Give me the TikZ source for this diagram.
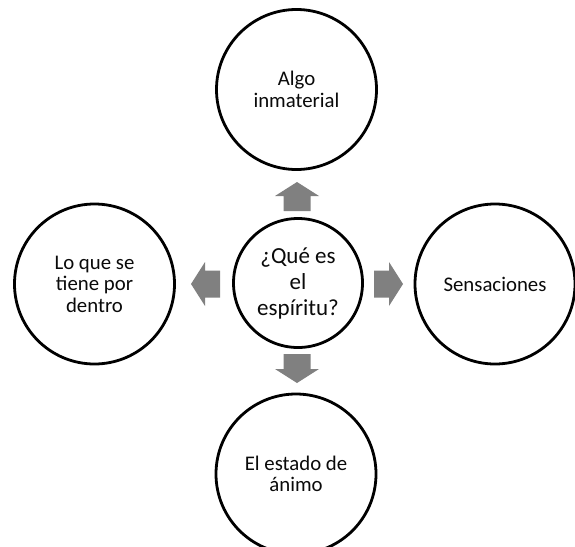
\documentclass[tikz,border=0pt]{standalone}
\usepackage{fontspec}
\setmainfont{Carlito}
\definecolor{arrowgray}{HTML}{808080}
\definecolor{textdark}{HTML}{0A0A0A}
\tikzset{
  outercircle/.style={circle, draw=black, line width=2.8pt, fill=white, minimum size=160pt, inner sep=0pt, align=center, text=textdark, font=\fontsize{20.8pt}{21.5pt}\selectfont},
  centercircle/.style={circle, draw=black, line width=2.8pt, fill=white, minimum size=129pt, inner sep=0pt, align=center, text=textdark, font=\fontsize{23pt}{26pt}\selectfont},
  blockarrow/.pic={\fill[arrowgray] (0pt,-13.5pt) -- (15pt,-13.5pt) -- (15pt,-22pt) -- (29pt,0pt) -- (15pt,22pt) -- (15pt,13.5pt) -- (0pt,13.5pt) -- cycle;}
}
\begin{document}
\begin{tikzpicture}[x=1pt,y=1pt]
\useasboundingbox (0,0) rectangle (575,-546);
\clip (0,0) rectangle (575,-546);
\node[centercircle] (center) at (298,-283) {¿Qué es\\el\\espíritu?};
\node[outercircle] (top) at (296.5,-89.5) {Algo\\inmaterial};
\node[outercircle] (left) at (94.5,-284) {Lo que se\\tiene por\\dentro};
\node[outercircle] (right) at (495,-284) {Sensaciones};
\node[outercircle] (bottom) at (296,-474) {El estado de\\ánimo};
\pic[rotate=90] at (297,-211) {blockarrow};
\pic[rotate=-90] at (297,-354) {blockarrow};
\pic[rotate=180] at (220,-284) {blockarrow};
\pic at (374,-284) {blockarrow};
\end{tikzpicture}
\end{document}
